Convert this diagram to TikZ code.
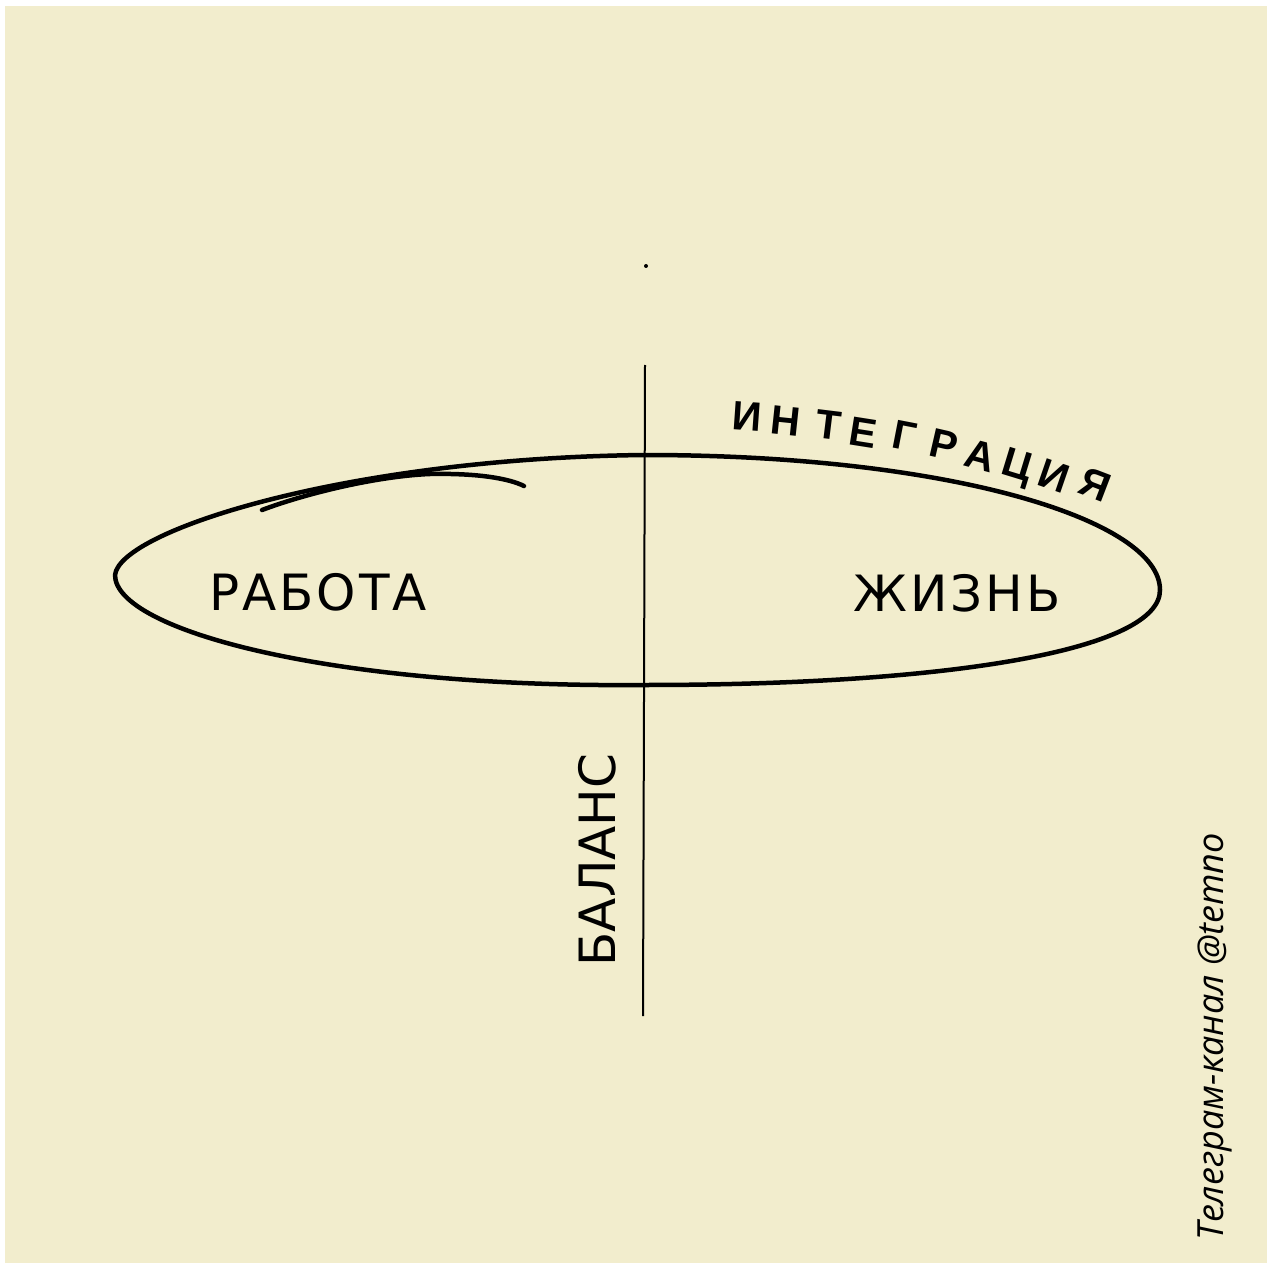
\documentclass[tikz,border=0pt]{standalone}
\usepackage{fontspec}
\setmainfont{Open Sans}
\newfontfamily\handfont[LetterSpace=6]{DejaVu Sans}
\newfontfamily\tighthand{DejaVu Sans}
\newfontfamily\markfont{Liberation Sans}
\definecolor{paper}{RGB}{242,237,205}
\tikzset{
  pen/.style={line width=4.5pt,line cap=round,line join=round},
  handtext/.style={font=\handfont\fontsize{50}{50}\selectfont,inner sep=0pt},
  inttext/.style={font=\markfont\bfseries\fontsize{41}{41}\selectfont,inner sep=0pt}
}
\begin{document}
\begin{tikzpicture}[x=1pt,y=-1pt]
\useasboundingbox (0,0) rectangle (1270,1265);
\fill[white] (0,0) rectangle (1270,1265);
\fill[paper] (5,6) rectangle (1267,1263);
\draw[pen] (115,575) .. controls (120,530) and (350,458) .. (645,455)
  .. controls (950,455) and (1160,520) .. (1160,590)
  .. controls (1160,650) and (950,685) .. (645,685)
  .. controls (330,688) and (115,630) .. cycle;
\draw[pen] (262,510) .. controls (310,492) and (380,476) .. (430,474) .. controls (480,473) and (510,479) .. (524,486);
\draw[line width=2pt] (645,365) -- (644,700) -- (643,1016);
\fill (646,266) circle (2);
\foreach \ch/\px/\py/\ang [count=\i] in {И/747/416/-4, Н/786/421/-6, Т/829/425/-7, Е/863/433/-9, Г/905/436/-11, Р/944/445/-13, А/980/456/-15, Ц/1017/468/-17, И/1054/476/-19, Я/1095/485/-21}
  \node[inttext,rotate=\ang] (int\i) at (\px,\py) {\ch};
\node[handtext] (work) at (318,592) {РАБОТА};
\node[handtext] (life) at (957,593) {ЖИЗНЬ};
\node[handtext,font=\tighthand\fontsize{50}{50}\selectfont,rotate=90] (balance) at (597,860) {БАЛАНС};
\node[font=\itshape\fontsize{36}{36}\selectfont,inner sep=0pt,rotate=90] (channel) at (1215,1037) {Телеграм-канал @temno};
\end{tikzpicture}
\end{document}
